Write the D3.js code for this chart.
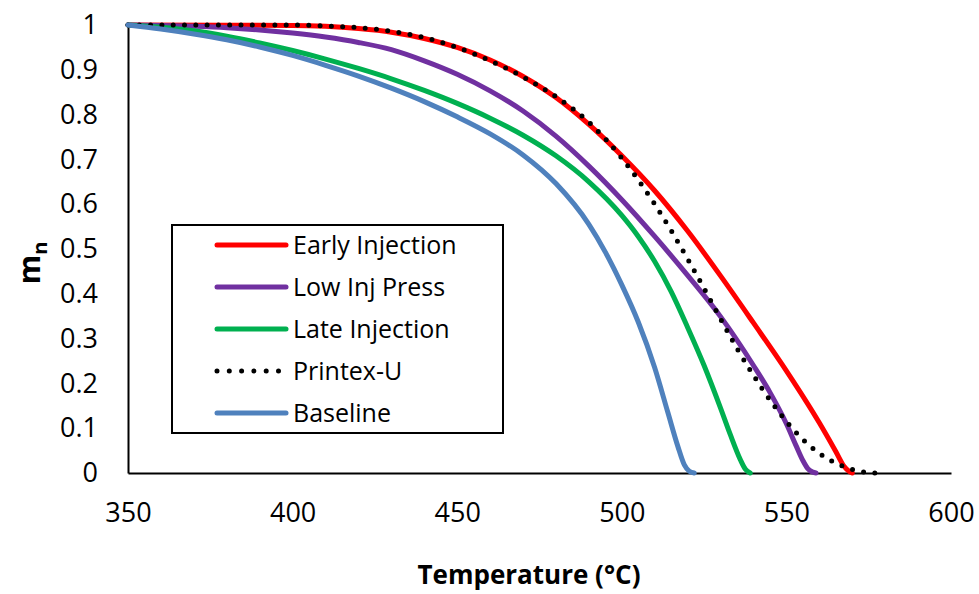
<!DOCTYPE html>
<html>
<head>
<meta charset="utf-8">
<script src="https://cdn.jsdelivr.net/npm/d3@7"></script>
<style>
  html, body { margin: 0; padding: 0; background: #fff; }
  svg { display: block; }
  text { font-family: "Open Sans", "Liberation Sans", sans-serif; fill: #000; }
</style>
</head>
<body>
<svg id="chart" width="979" height="594"></svg>
<script>
// ---- data ----
const seriesNames = ["Early Injection", "Low Inj Press", "Late Injection", "Printex-U", "Baseline"];
const seriesColors = ["#FF0000", "#7030A0", "#00B050", "#000000", "#4F81BD"];

const earlyT = [350, 380, 400, 410, 420, 430, 440, 450, 460, 470, 480, 490, 500, 510, 520, 530, 540, 550, 560, 565, 567.5, 569, 570];
const earlyM = [1.000, 0.9995, 0.999, 0.997, 0.992, 0.984, 0.970, 0.950, 0.922, 0.885, 0.838, 0.778, 0.708, 0.630, 0.540, 0.440, 0.335, 0.228, 0.112, 0.048, 0.015, 0.004, 0.000];

const lowT = [350, 360, 370, 380, 390, 400, 410, 420, 430, 440, 450, 460, 470, 480, 490, 500, 510, 520, 530, 540, 545, 550, 553, 555, 556.5, 558, 559];
const lowM = [1.000, 0.999, 0.997, 0.994, 0.989, 0.982, 0.973, 0.961, 0.945, 0.920, 0.890, 0.853, 0.808, 0.752, 0.685, 0.610, 0.528, 0.441, 0.349, 0.240, 0.180, 0.110, 0.060, 0.028, 0.010, 0.002, 0.000];

const lateT = [350, 360, 370, 380, 390, 400, 410, 420, 430, 440, 450, 460, 470, 480, 490, 500, 505, 510, 515, 520, 525, 530, 533, 536, 537.5, 539];
const lateM = [1.000, 0.995, 0.987, 0.975, 0.960, 0.943, 0.924, 0.903, 0.880, 0.854, 0.825, 0.792, 0.754, 0.708, 0.650, 0.575, 0.528, 0.472, 0.405, 0.325, 0.240, 0.145, 0.085, 0.030, 0.009, 0.000];

const printexT = [350, 400, 410, 420, 430, 440, 450, 460, 470, 480, 490, 500, 510, 520, 525, 530, 535, 540, 545, 550, 555, 560, 565, 570, 573, 577];
const printexM = [1.000, 1.000, 0.998, 0.994, 0.986, 0.972, 0.950, 0.920, 0.884, 0.840, 0.783, 0.703, 0.600, 0.478, 0.412, 0.344, 0.278, 0.218, 0.163, 0.115, 0.075, 0.044, 0.022, 0.008, 0.003, 0.000];

const baseT = [350, 360, 370, 380, 390, 400, 410, 420, 430, 440, 450, 460, 470, 480, 490, 495, 500, 505, 510, 514, 517, 519, 520.5, 522];
const baseM = [1.000, 0.991, 0.980, 0.967, 0.951, 0.932, 0.910, 0.886, 0.859, 0.829, 0.795, 0.757, 0.710, 0.646, 0.555, 0.493, 0.420, 0.337, 0.235, 0.135, 0.060, 0.018, 0.004, 0.000];

const xTicks = [350, 400, 450, 500, 550, 600];
const yTicks = [0, 0.1, 0.2, 0.3, 0.4, 0.5, 0.6, 0.7, 0.8, 0.9, 1];

const seriesT = [earlyT, lowT, lateT, printexT, baseT];
const seriesM = [earlyM, lowM, lateM, printexM, baseM];

// ---- layout ----
const svg = d3.select("#chart");
const plot = { left: 128, right: 951, top: 25, bottom: 473 };

const x = d3.scaleLinear().domain([350, 600]).range([plot.left, plot.right]);
const y = d3.scaleLinear().domain([0, 1]).range([plot.bottom, plot.top]);

// axes
const xAxis = d3.axisBottom(x).tickValues(xTicks).tickSize(0).tickPadding(30).tickFormat(d3.format("d"));
const yAxis = d3.axisLeft(y).tickValues(yTicks).tickSize(0).tickPadding(30).tickFormat(d => d3.format("")(d));

const gx = svg.append("g").attr("transform", `translate(0,${plot.bottom})`).call(xAxis);
gx.select(".domain").attr("stroke", "#000").attr("stroke-width", 2);
gx.selectAll("text").attr("font-size", 27).attr("font-family", "'Open Sans', sans-serif").attr("fill", "#000");

const gy = svg.append("g").attr("transform", `translate(${plot.left},0)`).call(yAxis);
gy.select(".domain").attr("stroke", "#000").attr("stroke-width", 2);
gy.selectAll("text").attr("font-size", 27).attr("font-family", "'Open Sans', sans-serif").attr("fill", "#000");

// lines
const line = d3.line()
  .x(d => x(d[0]))
  .y(d => y(d[1]))
  .curve(d3.curveMonotoneX);

seriesNames.forEach((name, i) => {
  const pts = seriesT[i].map((t, k) => [t, seriesM[i][k]]);
  const p = svg.append("path")
    .datum(pts)
    .attr("d", line)
    .attr("fill", "none")
    .attr("stroke", seriesColors[i])
    .attr("stroke-linecap", "round")
    .attr("stroke-linejoin", "round");
  if (name === "Printex-U") {
    p.attr("stroke-width", 5).attr("stroke-dasharray", "0 11.3");
  } else {
    p.attr("stroke-width", 5);
  }
});

// legend
const leg = svg.append("g");
leg.append("rect")
  .attr("x", 172).attr("y", 225).attr("width", 331).attr("height", 208)
  .attr("fill", "#fff").attr("stroke", "#000").attr("stroke-width", 2);

seriesNames.forEach((name, i) => {
  const cy = 245 + i * 42;
  const l = leg.append("line")
    .attr("x1", 217).attr("x2", 286).attr("y1", cy).attr("y2", cy)
    .attr("stroke", seriesColors[i]).attr("stroke-linecap", "round");
  if (name === "Printex-U") {
    l.attr("stroke-width", 5).attr("stroke-dasharray", "0 12.3");
  } else {
    l.attr("stroke-width", 5);
  }
  leg.append("text")
    .attr("x", 293).attr("y", cy)
    .attr("dy", "0.35em")
    .attr("font-size", 25)
    .text(name);
});

// axis titles
svg.append("text")
  .attr("x", 529)
  .attr("y", 584)
  .attr("text-anchor", "middle")
  .attr("font-size", 26)
  .attr("font-weight", "bold")
  .text("Temperature (°C)");

const yt = svg.append("text")
  .attr("transform", "translate(40,263) rotate(-90)")
  .attr("text-anchor", "middle")
  .attr("font-size", 30)
  .attr("font-weight", "bold");
yt.append("tspan").text("m");
yt.append("tspan").attr("font-size", 20).attr("dy", 7).text("n");
</script>
</body>
</html>
